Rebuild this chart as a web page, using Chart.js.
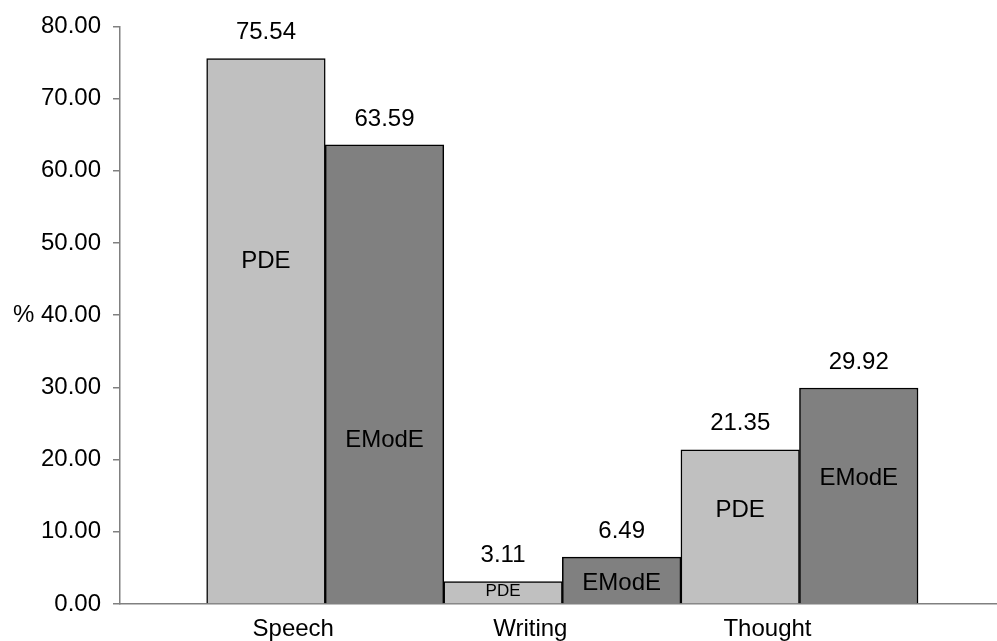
<!DOCTYPE html>
<html>
<head>
<meta charset="utf-8">
<script src="https://cdn.jsdelivr.net/npm/chart.js@4.4.1/dist/chart.umd.min.js"></script>
<style>
  html, body { margin: 0; padding: 0; background: #fff; }
  #wrap { width: 997px; height: 641px; }
</style>
</head>
<body>
<div id="wrap"><canvas id="myChart"></canvas></div>
<script>
// values
const categories = ['Speech', 'Writing', 'Thought'];
const seriesNames = ['PDE', 'EModE'];
const pdeValues = [75.54, 3.11, 21.35];
const emodeValues = [63.59, 6.49, 29.92];
const yTicks = [0, 10, 20, 30, 40, 50, 60, 70, 80];

// where the names sit inside each bar (in y units)
const pdeNamePos = [47.4, 1.8, 13];
const emodeNamePos = [22.6, 2.9, 17.4];

const FONT = '"Liberation Sans", Arial, sans-serif';

function toPoints(vals){
    return vals.map(function(v, i){ return {x: i + 1, y: v}; });
}

// value on top, series name inside
const barText = {
    id: 'barText',
    afterDatasetsDraw: function(chart){
        const ctx = chart.ctx;
        const yScale = chart.scales.y;
        ctx.save();
        ctx.fillStyle = '#000';
        ctx.textAlign = 'center';
        ctx.textBaseline = 'middle';
        chart.data.datasets.forEach(function(ds, d){
            const meta = chart.getDatasetMeta(d);
            meta.data.forEach(function(el, i){
                const v = ds.data[i].y;
                ctx.font = '24px ' + FONT;
                ctx.fillText(v.toFixed(2), el.x, el.y - 26);
                const small = el.base - el.y < 30 && ds.label == 'PDE';
                ctx.font = (small ? '17px ' : '24px ') + FONT;
                ctx.fillText(ds.label, el.x, yScale.getPixelForValue(ds.namePos[i]));
            });
        });
        ctx.restore();
    }
};

const ctx = document.getElementById('myChart').getContext('2d');
const myChart = new Chart(ctx, {
    type: 'bar',
    data: {
        datasets: [{
            label: seriesNames[0],
            data: toPoints(pdeValues),
            namePos: pdeNamePos,
            backgroundColor: '#c0c0c0',
            borderColor: '#000',
            borderWidth: 1.5
        }, {
            label: seriesNames[1],
            data: toPoints(emodeValues),
            namePos: emodeNamePos,
            backgroundColor: '#808080',
            borderColor: '#000',
            borderWidth: 1.5
        }]
    },
    options: {
        responsive: true,
        maintainAspectRatio: false,
        animation: false,
        categoryPercentage: 1,
        barPercentage: 1,
        layout: { padding: { top: 23, right: 0, left: 0, bottom: 0 } },
        plugins: {
            legend: { display: false },
            tooltip: { enabled: false }
        },
        scales: {
            x: {
                type: 'linear',
                min: 0.1345,
                max: 3.833,
                offset: false,
                afterBuildTicks: function(scale){
                    scale.ticks = categories.map(function(c, i){ return {value: i + 1}; });
                },
                afterFit: function(scale){ scale.height = 37; },
                ticks: {
                    callback: function(v){ return categories[v - 1] || ''; },
                    labelOffset: -32,
                    padding: 11,
                    maxRotation: 0,
                    autoSkip: false,
                    color: '#000',
                    font: { family: FONT, size: 24 }
                },
                grid: { display: true, drawOnChartArea: false, drawTicks: false, offset: false },
                border: { color: '#808080', width: 1.5 }
            },
            y: {
                min: 0,
                max: 80,
                afterBuildTicks: function(scale){
                    scale.ticks = yTicks.map(function(v){ return {value: v}; });
                },
                afterFit: function(scale){ scale.width = 120; },
                ticks: {
                    callback: function(v){ return (v == 40 ? '% ' : '') + v.toFixed(2); },
                    padding: 12,
                    color: '#000',
                    font: { family: FONT, size: 24 }
                },
                grid: { drawOnChartArea: false, tickLength: 7, color: '#808080', lineWidth: 1.5 },
                border: { color: '#808080', width: 1.5 }
            }
        }
    },
    plugins: [barText]
});
</script>
</body>
</html>
